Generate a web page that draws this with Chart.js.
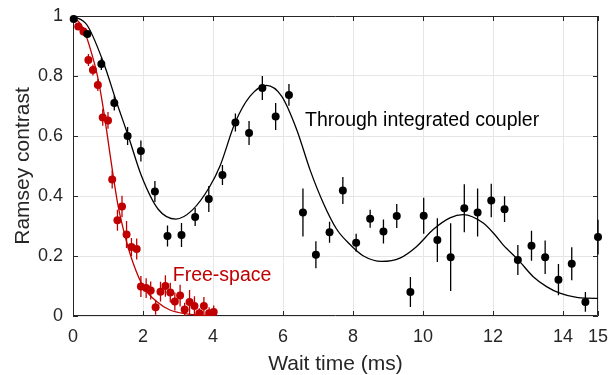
<!DOCTYPE html>
<html>
<head>
<meta charset="utf-8">
<script src="https://cdn.jsdelivr.net/npm/chart.js@4/dist/chart.umd.min.js"></script>
<style>
  body { margin: 0; background: #fff; }
  #wrap { width: 609px; height: 375px; }
</style>
</head>
<body>
<div id="wrap"><canvas id="ramsey" width="609" height="375"></canvas></div>
<script>
// Through integrated coupler (black)
const coupledTime = [0.02, 0.41, 0.81, 1.18, 1.56, 1.94, 2.34, 2.7, 3.1, 3.49, 3.88, 4.27, 4.64, 5.03, 5.41, 5.79, 6.17, 6.57, 6.94, 7.33,
  7.71, 8.09, 8.49, 8.87, 9.25, 9.64, 10.02, 10.41, 10.79, 11.18, 11.56, 11.95, 12.33, 12.71, 13.1, 13.49, 13.87, 14.25, 14.64, 15.0];
const coupledContrast = [0.99, 0.94, 0.84, 0.71, 0.60, 0.55, 0.415, 0.267, 0.27, 0.33, 0.39, 0.47, 0.645, 0.61, 0.76, 0.665, 0.737, 0.345, 0.204, 0.279,
  0.418, 0.244, 0.324, 0.282, 0.333, 0.08, 0.334, 0.253, 0.196, 0.359, 0.345, 0.385, 0.356, 0.187, 0.234, 0.196, 0.121, 0.174, 0.047, 0.263];
const coupledErr = [0.01, 0.012, 0.02, 0.025, 0.03, 0.035, 0.035, 0.035, 0.04, 0.03, 0.043, 0.033, 0.03, 0.04, 0.04, 0.045, 0.036, 0.08, 0.045, 0.035,
  0.045, 0.03, 0.03, 0.04, 0.04, 0.05, 0.06, 0.073, 0.113, 0.08, 0.08, 0.056, 0.043, 0.05, 0.05, 0.056, 0.052, 0.055, 0.033, 0.058];

// Free-space (red)
const freeTime = [0.15, 0.3, 0.44, 0.57, 0.71, 0.85, 1.0, 1.12, 1.27, 1.4, 1.53, 1.67, 1.82, 1.94, 2.09, 2.22, 2.36, 2.5, 2.64,
  2.78, 2.91, 3.06, 3.19, 3.33, 3.47, 3.61, 3.74, 3.89, 4.02];
const freeContrast = [0.965, 0.948, 0.853, 0.82, 0.77, 0.662, 0.652, 0.455, 0.319, 0.365, 0.272, 0.23, 0.223, 0.098, 0.093, 0.085, 0.029, 0.081, 0.1,
  0.078, 0.048, 0.068, 0.022, 0.047, 0.033, 0.009, 0.033, 0.009, 0.013];
const freeErr = [0.012, 0.015, 0.02, 0.018, 0.02, 0.028, 0.028, 0.03, 0.035, 0.036, 0.045, 0.03, 0.035, 0.035, 0.033, 0.03, 0.025, 0.033, 0.036,
  0.033, 0.03, 0.036, 0.022, 0.04, 0.033, 0.017, 0.03, 0.02, 0.022];

// fit curves
const coupledFitTime = [0, 0.4, 0.87, 1.25, 1.58, 1.96, 2.44, 2.94, 3.4, 3.9, 4.2, 4.63, 5.06, 5.53, 5.96, 6.39, 6.77, 7.15, 7.53,
  7.9, 8.3, 8.82, 9.34, 9.82, 10.29, 10.77, 11.15, 11.72, 12.06, 12.29, 12.72, 13.15, 13.53, 13.91, 14.39, 14.96, 15];
const coupledFit = [1.0, 0.97, 0.845, 0.711, 0.6, 0.466, 0.355, 0.323, 0.352, 0.43, 0.5, 0.644, 0.733, 0.769, 0.733, 0.622, 0.488, 0.377, 0.29,
  0.24, 0.2, 0.182, 0.193, 0.232, 0.288, 0.327, 0.338, 0.31, 0.27, 0.237, 0.187, 0.131, 0.098, 0.076, 0.062, 0.059, 0.059];
const freeFitTime = [0, 0.3, 0.58, 0.72, 0.87, 1.01, 1.15, 1.29, 1.49, 1.72, 2.01, 2.39, 2.77, 3.25, 3.72, 4.02];
const freeFit = [1.0, 0.957, 0.856, 0.789, 0.689, 0.578, 0.466, 0.366, 0.265, 0.176, 0.098, 0.048, 0.02, 0.007, 0.002, 0.001];

const xTicks = [0, 2, 4, 6, 8, 10, 12, 14, 15];
const yTicks = [0, 0.2, 0.4, 0.6, 0.8, 1];

const RED = '#c00000';
const AXIS = '#262626';
const FONT = "'Liberation Sans', Arial, Helvetica, sans-serif";

const toPoints = (xs, ys) => xs.map((x, i) => ({ x: x, y: ys[i] }));

// vertical error bars, drawn just before each point dataset
const errorBars = {
  id: 'errorBars',
  beforeDatasetDraw(chart, args) {
    const ds = chart.data.datasets[args.index];
    if (!ds.errors) return;
    const { ctx, chartArea } = chart;
    const xs = chart.scales.x, ys = chart.scales.y;
    ctx.save();
    ctx.beginPath();
    ctx.rect(chartArea.left - 6, chartArea.top, chartArea.right - chartArea.left + 12, chartArea.bottom - chartArea.top);
    ctx.clip();
    ctx.strokeStyle = ds.errorColor;
    ctx.lineWidth = 1.3;
    ctx.beginPath();
    ds.data.forEach((p, i) => {
      const px = xs.getPixelForValue(p.x);
      ctx.moveTo(px, ys.getPixelForValue(p.y - ds.errors[i]));
      ctx.lineTo(px, ys.getPixelForValue(p.y + ds.errors[i]));
    });
    ctx.stroke();
    ctx.restore();
  }
};

// box round the axes plus small inward ticks, and the two labels
const axesBox = {
  id: 'axesBox',
  beforeDatasetsDraw(chart) {
    const { ctx, chartArea: a } = chart;
    const xs = chart.scales.x, ys = chart.scales.y;
    ctx.save();
    ctx.strokeStyle = AXIS;
    ctx.lineWidth = 1;
    ctx.beginPath();
    ctx.rect(a.left + 0.5, a.top + 0.5, a.right - a.left - 1, a.bottom - a.top - 1);
    xTicks.forEach(v => {
      const px = Math.round(xs.getPixelForValue(v)) + 0.5;
      ctx.moveTo(px, a.bottom); ctx.lineTo(px, a.bottom - 5);
      ctx.moveTo(px, a.top); ctx.lineTo(px, a.top + 5);
    });
    yTicks.forEach(v => {
      const py = Math.round(ys.getPixelForValue(v)) + 0.5;
      ctx.moveTo(a.left, py); ctx.lineTo(a.left + 5, py);
      ctx.moveTo(a.right, py); ctx.lineTo(a.right - 5, py);
    });
    ctx.stroke();
    ctx.restore();
  },
  afterDatasetsDraw(chart) {
    const { ctx } = chart;
    const xs = chart.scales.x, ys = chart.scales.y;
    ctx.save();
    ctx.font = '19.5px ' + FONT;
    ctx.textBaseline = 'alphabetic';
    ctx.fillStyle = '#000';
    ctx.fillText('Through integrated coupler', xs.getPixelForValue(6.63), ys.getPixelForValue(0.632));
    ctx.fillStyle = RED;
    ctx.fillText('Free-space', xs.getPixelForValue(2.85), ys.getPixelForValue(0.117));
    ctx.restore();
  }
};

new Chart(document.getElementById('ramsey'), {
  type: 'scatter',
  data: {
    datasets: [
      {
        label: 'Through integrated coupler',
        data: toPoints(coupledTime, coupledContrast),
        errors: coupledErr,
        errorColor: '#000',
        backgroundColor: '#000',
        borderColor: '#000',
        pointRadius: 4,
        pointBorderWidth: 0,
        clip: false,
        order: 0
      },
      {
        label: 'Free-space',
        data: toPoints(freeTime, freeContrast),
        errors: freeErr,
        errorColor: RED,
        backgroundColor: RED,
        borderColor: RED,
        pointRadius: 4,
        pointBorderWidth: 0,
        order: 1
      },
      {
        label: 'coupler fit',
        data: toPoints(coupledFitTime, coupledFit),
        showLine: true,
        borderColor: '#000',
        borderWidth: 1.3,
        pointRadius: 0,
        cubicInterpolationMode: 'monotone',
        order: 2
      },
      {
        label: 'free-space fit',
        data: toPoints(freeFitTime, freeFit),
        showLine: true,
        borderColor: RED,
        borderWidth: 1.3,
        pointRadius: 0,
        cubicInterpolationMode: 'monotone',
        order: 3
      }
    ]
  },
  options: {
    responsive: false,
    animation: false,
    events: [],
    layout: { padding: { top: 16, right: 11, left: 0, bottom: 0 } },
    plugins: { legend: { display: false }, tooltip: { enabled: false } },
    scales: {
      x: {
        type: 'linear',
        min: 0,
        max: 15,
        afterBuildTicks: s => { s.ticks = xTicks.map(v => ({ value: v })); },
        afterFit: s => { s.height = 59; s.paddingLeft = 0; s.paddingRight = 0; },
        grid: { color: '#e6e6e6', drawTicks: false },
        border: { display: false },
        ticks: { color: AXIS, padding: 10, maxRotation: 0, autoSkip: false, font: { family: FONT, size: 18 } },
        title: { display: true, text: 'Wait time (ms)', color: AXIS, padding: { top: 0, bottom: 0 }, font: { family: FONT, size: 21, lineHeight: 1 } }
      },
      y: {
        min: 0,
        max: 1,
        afterBuildTicks: s => { s.ticks = yTicks.map(v => ({ value: v })); },
        afterFit: s => { s.width = 73; s.paddingTop = 0; s.paddingBottom = 0; },
        grid: { color: '#e6e6e6', drawTicks: false },
        border: { display: false },
        ticks: { color: AXIS, padding: 10, autoSkip: false, font: { family: FONT, size: 18 }, callback: v => String(v) },
        title: { display: true, text: 'Ramsey contrast', color: AXIS, padding: { top: 11, bottom: 0 }, font: { family: FONT, size: 21 } }
      }
    }
  },
  plugins: [errorBars, axesBox]
});
</script>
</body>
</html>
